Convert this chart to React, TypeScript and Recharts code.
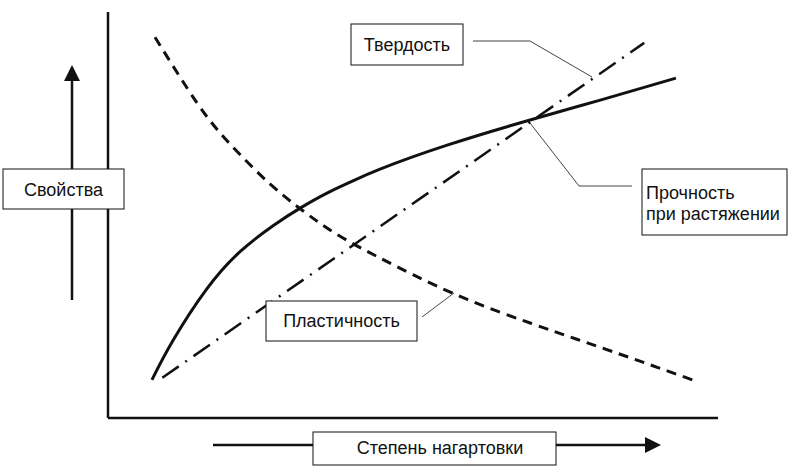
import React from 'react';
import { LineChart, Line, XAxis, YAxis, ReferenceLine } from 'recharts';

// Прочность при растяжении (solid)
const strengthX = [7.2, 10.7, 16.2, 21.6, 27.0, 31.5, 35.9, 39.7, 44.6, 55.6, 69.2, 80.7, 93.1];
const strengthY = [9.4, 19.2, 31.8, 40.9, 47.3, 51.7, 55.4, 58.1, 61.3, 67.2, 73.4, 78.3, 83.7];

// Твердость (dash-dot, straight)
const hardnessX = [8.9, 87.9];
const hardnessY = [9.9, 92.4];

// Пластичность (dashed)
const plasticityX = [7.7, 14.6, 20.0, 26.6, 32.0, 35.9, 40.2, 44.6, 50.0, 58.9, 69.2, 78.2, 87.2, 96.7];
const plasticityY = [93.8, 77.6, 67.5, 57.6, 51.0, 46.8, 42.9, 39.4, 35.3, 29.2, 23.4, 18.7, 14.0, 8.9];

const toPoints = (xs: number[], ys: number[]) => xs.map((x, i) => ({ x, y: ys[i] }));

const strength = toPoints(strengthX, strengthY);
const hardness = toPoints(hardnessX, hardnessY);
const plasticity = toPoints(plasticityX, plasticityY);

const W = 797;
const H = 474;
const font = '"Liberation Sans", Arial, sans-serif';
const ink = '#111';

const Box = ({ x, y, w, h }: { x: number; y: number; w: number; h: number }) => (
    <rect x={x} y={y} width={w} height={h} fill="#fff" stroke={ink} strokeWidth={1} />
);

const App = () => {
    return (
        <div style={{ position: 'absolute', left: 0, top: 0, width: W, height: H, background: '#fff' }}>
            <LineChart width={W} height={H} margin={{ top: 12, right: 79, bottom: 56, left: 108 }}>
                <XAxis type="number" dataKey="x" domain={[0, 100]} hide />
                <YAxis type="number" dataKey="y" domain={[0, 100]} hide />
                <ReferenceLine x={0} stroke={ink} strokeWidth={2.5} />
                <ReferenceLine y={0} stroke={ink} strokeWidth={2.5} />
                <Line data={strength} dataKey="y" type="natural" stroke={ink} strokeWidth={3} dot={false} isAnimationActive={false} />
                <Line data={hardness} dataKey="y" type="linear" stroke={ink} strokeWidth={2.5} strokeDasharray="20 8 2 8" dot={false} isAnimationActive={false} />
                <Line data={plasticity} dataKey="y" type="natural" stroke={ink} strokeWidth={3} strokeDasharray="10 7" dot={false} isAnimationActive={false} />
            </LineChart>

            {/* labels, leaders and arrows */}
            <svg width={W} height={H} style={{ position: 'absolute', left: 0, top: 0, pointerEvents: 'none' }} fontFamily={font} fontSize={18} fill={ink}>
                <polyline points="473,41 530,41 592,77" fill="none" stroke="#444" strokeWidth={1} />
                <polyline points="632,186 579,186 530,123" fill="none" stroke="#444" strokeWidth={1} />
                <polyline points="422,317 454,293" fill="none" stroke="#444" strokeWidth={1} />

                <line x1={72} y1={300} x2={72} y2={78} stroke={ink} strokeWidth={2.5} />
                <polygon points="72,65 64,81 80,81" fill={ink} />
                <line x1={213} y1={445} x2={648} y2={445} stroke={ink} strokeWidth={2.5} />
                <polygon points="661,445 645,437 645,453" fill={ink} />

                <Box x={351} y={24} w={112} h={41} />
                <text x={407} y={51} textAnchor="middle">Твердость</text>

                <Box x={642} y={169} w={145} h={66} />
                <text x={646} y={199}>Прочность</text>
                <text x={646} y={220}>при растяжении</text>

                <Box x={266} y={301} w={151} h={40} />
                <text x={341.5} y={327} textAnchor="middle">Пластичность</text>

                <Box x={3} y={169} w={121} h={40} />
                <text x={63.5} y={196} textAnchor="middle">Свойства</text>

                <Box x={313} y={432} w={243} h={33} />
                <text x={440} y={454} textAnchor="middle">Степень нагартовки</text>
            </svg>
        </div>
    );
};

export default App;
